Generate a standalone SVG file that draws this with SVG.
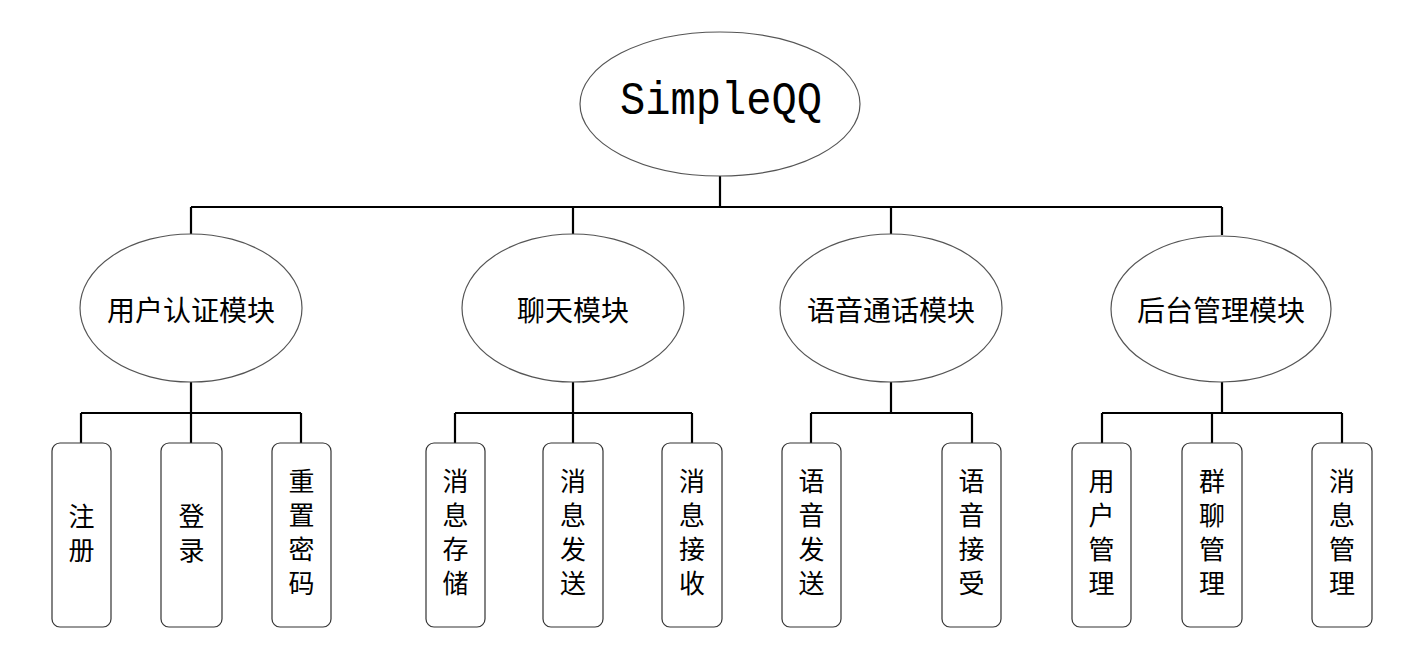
<svg xmlns="http://www.w3.org/2000/svg" width="1425" height="649" viewBox="0 0 1425 649">
<style>
.ell{fill:#fff;stroke:#555;stroke-width:1.2}
.box{fill:#fff;stroke:#333;stroke-width:1.2}
.conn{fill:none;stroke:#000;stroke-width:2.2}
.t{font-family:"Noto Sans CJK SC","Liberation Sans",sans-serif;font-size:26px;fill:#000;text-anchor:middle;writing-mode:vertical-rl;letter-spacing:8px}
.m{font-family:"Noto Sans CJK SC","Liberation Sans",sans-serif;font-size:28px;fill:#000;text-anchor:middle;dominant-baseline:central}
.root{font-family:"Liberation Mono",monospace;font-size:46px;fill:#000;text-anchor:middle}
</style>
<rect width="1425" height="649" fill="#fff"/>
<g id="connectors">
<path class="conn" d="M720 175V207M191 207H1222M191 207V235M573 207V235M891 207V235M1222 207V235"/>
<path class="conn" d="M191 382V413M81 413H301M81 413V443M191 413V443M301 413V443"/>
<path class="conn" d="M573 382V413M455 413H692M455 413V443M573 413V443M692 413V443"/>
<path class="conn" d="M891 382V413M811 413H972M811 413V443M972 413V443"/>
<path class="conn" d="M1222 382V413M1102 413H1342M1102 413V443M1212 413V443M1342 413V443"/>
</g>
<g id="root">
<ellipse class="ell" cx="720" cy="104" rx="140" ry="72"/>
<text class="root" x="721" y="114" textLength="202" lengthAdjust="spacingAndGlyphs">SimpleQQ</text>
</g>
<g id="m1"><ellipse class="ell" cx="191" cy="308" rx="111" ry="74"/><text class="m" x="191" y="309">用户认证模块</text></g>
<g id="m2"><ellipse class="ell" cx="573" cy="308" rx="111" ry="74"/><text class="m" x="573" y="309">聊天模块</text></g>
<g id="m3"><ellipse class="ell" cx="891" cy="308" rx="111" ry="74"/><text class="m" x="891" y="309">语音通话模块</text></g>
<g id="m4"><ellipse class="ell" cx="1221" cy="309" rx="110" ry="73"/><text class="m" x="1221" y="309">后台管理模块</text></g>

<g id="b1"><rect class="box" x="52" y="443" width="59" height="184" rx="8"/><text class="t" x="81.5" y="537">注册</text></g>
<g id="b2"><rect class="box" x="161" y="443" width="61" height="184" rx="8"/><text class="t" x="191.5" y="537">登录</text></g>
<g id="b3"><rect class="box" x="272" y="443" width="59" height="184" rx="8"/><text class="t" x="301.5" y="536">重置密码</text></g>

<g id="b4"><rect class="box" x="426" y="443" width="59" height="184" rx="8"/><text class="t" x="455.5" y="536">消息存储</text></g>
<g id="b5"><rect class="box" x="543" y="443" width="60" height="184" rx="8"/><text class="t" x="573" y="536">消息发送</text></g>
<g id="b6"><rect class="box" x="662" y="443" width="60" height="184" rx="8"/><text class="t" x="692" y="536">消息接收</text></g>

<g id="b7"><rect class="box" x="782" y="443" width="59" height="184" rx="8"/><text class="t" x="811.5" y="536">语音发送</text></g>
<g id="b8"><rect class="box" x="942" y="443" width="59" height="184" rx="8"/><text class="t" x="971.5" y="536">语音接受</text></g>

<g id="b9"><rect class="box" x="1072" y="443" width="59" height="184" rx="8"/><text class="t" x="1101.5" y="536">用户管理</text></g>
<g id="b10"><rect class="box" x="1182" y="443" width="60" height="184" rx="8"/><text class="t" x="1212" y="536">群聊管理</text></g>
<g id="b11"><rect class="box" x="1312" y="443" width="60" height="184" rx="8"/><text class="t" x="1342" y="536">消息管理</text></g>
</svg>
